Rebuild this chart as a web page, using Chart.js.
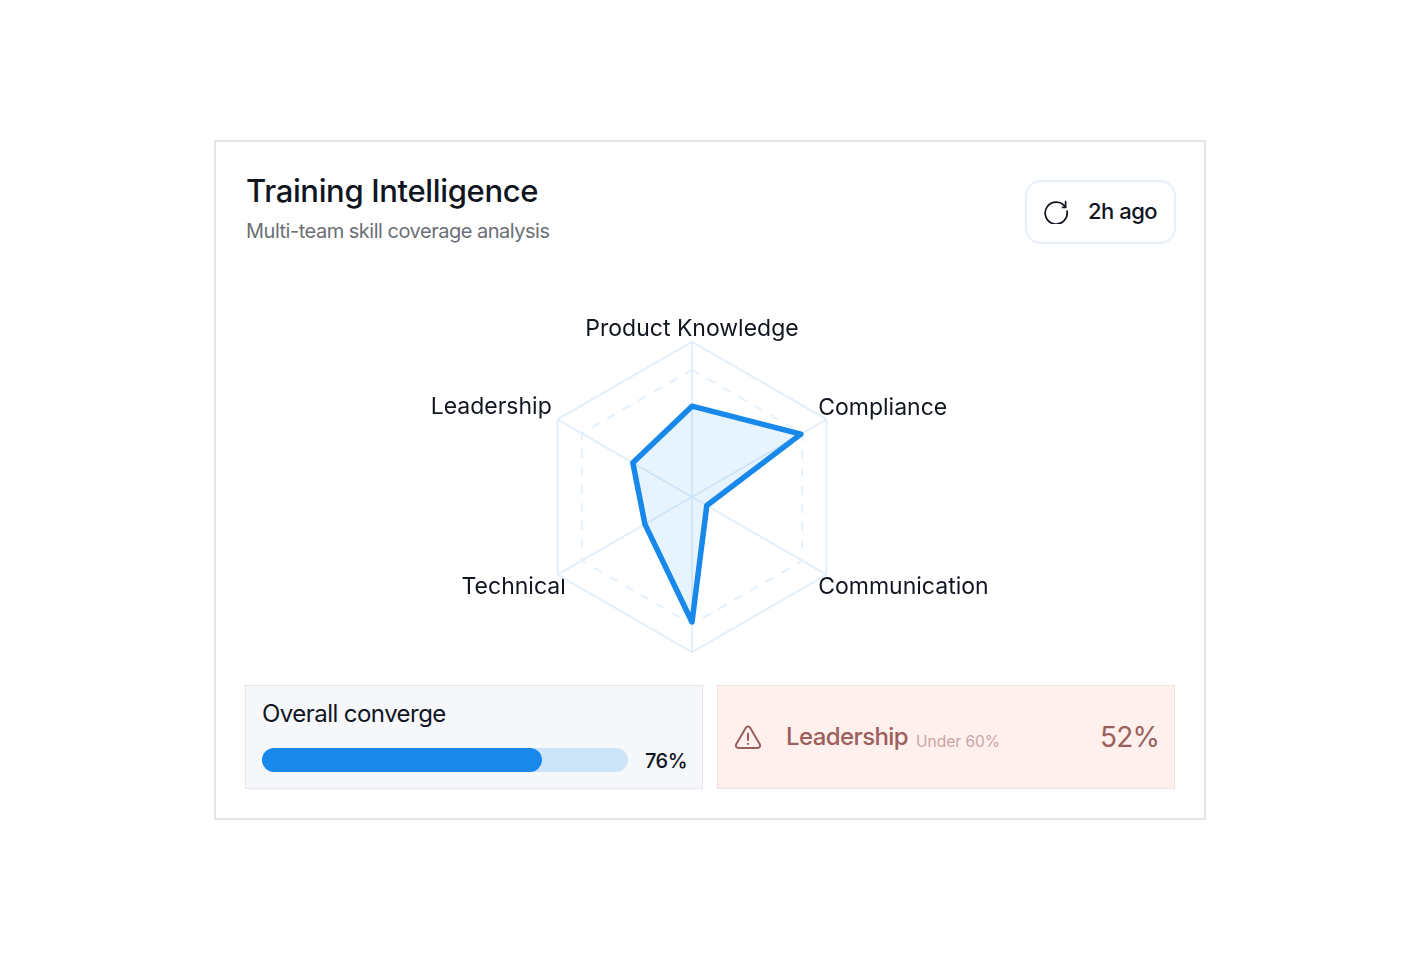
<!DOCTYPE html>
<html>
<head>
<meta charset="utf-8">
<script src="https://cdn.jsdelivr.net/npm/chart.js@4"></script>
<style>
  * { box-sizing: border-box; }
  body { margin: 0; width: 1420px; height: 960px; background: #fff; font-family: Inter, sans-serif; color: #10151f; position: relative; overflow: hidden; }
  .card { position: absolute; left: 214px; top: 140px; width: 992px; height: 680px; border: 2px solid #e5e5e5; }
  .abs { position: absolute; white-space: nowrap; line-height: 1; }
  #title { left: 246px; top: 175px; font-size: 31px; font-weight: 500; letter-spacing: -0.35px; }
  #subtitle { left: 246px; top: 221px; font-size: 20px; color: #6b6f76; letter-spacing: -0.49px; }
  .badge { position: absolute; left: 1025px; top: 180px; width: 151px; height: 64px; border: 2px solid #e8eff6; border-radius: 16px; }
  #ago { left: 1088px; top: 200px; font-size: 22px; font-weight: 500; letter-spacing: -0.5px; }
  #radar { position: absolute; left: 292px; top: 315px; }
  .panel { position: absolute; top: 685px; width: 458px; height: 104px; border: 1.5px solid #e4e6ea; }
  #left { left: 245px; background: #f5f7fb; }
  #right { left: 717px; background: #fff0ee; border-color: #eee2e0; }
  #overall { left: 262px; top: 702px; font-size: 24px; letter-spacing: -0.55px; }
  .track { position: absolute; left: 262px; top: 748px; width: 366px; height: 24px; border-radius: 12px; background: #cde4f8; }
  .fill { height: 100%; border-radius: 12px; background: #1888eb; }
  #pct { left: 645px; top: 751px; font-size: 20px; font-weight: 500; letter-spacing: -0.5px; }
  #lead { left: 786px; top: 725px; font-size: 24px; font-weight: 500; color: #9b5f5c; letter-spacing: -0.6px; }
  #under { left: 916px; top: 734px; font-size: 15.5px; color: #c9a5a3; }
  #alert { left: 1100px; top: 723px; font-size: 28px; color: #9b5f5c; letter-spacing: -0.75px; }
  svg { position: absolute; }
</style>
</head>
<body>
<div class="card"></div>
<div class="abs" id="title"></div>
<div class="abs" id="subtitle"></div>
<div class="badge"></div>
<svg style="left:1043px;top:198px" width="26" height="26" viewBox="0 0 26 26" fill="none" stroke="#10151f" stroke-width="1.7" stroke-linecap="round" stroke-linejoin="round">
  <path d="M22.5 9.2A11 11 0 1 0 24 13"/><path d="M22.6 3.6v5.8h-3"/>
</svg>
<div class="abs" id="ago"></div>
<canvas id="radar" width="800" height="364"></canvas>
<div class="panel" id="left"></div>
<div class="abs" id="overall"></div>
<div class="track"><div class="fill" id="fill"></div></div>
<div class="abs" id="pct"></div>
<div class="panel" id="right"></div>
<svg style="left:734px;top:724px" width="28" height="26" viewBox="0 0 28 26" fill="none" stroke="#9b5f5c" stroke-width="2" stroke-linecap="round" stroke-linejoin="round">
  <path d="M14 2.500c-1 0-1.800.5-2.300 1.400L2.200 20.200c-1 1.800.2 3.800 2.200 3.800h19.200c2 0 3.200-2 2.200-3.800L16.300 3.900C15.800 3 15 2.500 14 2.500z"/><path d="M14 9.500v6.500"/><path d="M14 19.800v.2"/>
</svg>
<div class="abs" id="lead"></div>
<div class="abs" id="under"></div>
<div class="abs" id="alert"></div>

<script>
const skills = ["Product Knowledge", "Compliance", "Communication", "", "Technical", "Leadership"];
const scores = [58.5, 81, 11, 80.5, 35, 44];
const ringValues = [0, 82, 100];

const overallLabel = "Overall converge";
const overallValue = "76%";
const alertSkill = "Leadership";
const alertNote = "Under 60%";
const alertValue = "52%";

document.getElementById("title").textContent = "Training Intelligence";
document.getElementById("subtitle").textContent = "Multi-team skill coverage analysis";
document.getElementById("ago").textContent = "2h ago";
document.getElementById("overall").textContent = overallLabel;
document.getElementById("pct").textContent = overallValue;
document.getElementById("fill").style.width = "280px";
document.getElementById("lead").textContent = alertSkill;
document.getElementById("under").textContent = alertNote;
document.getElementById("alert").textContent = alertValue;

// per label nudges, the labels in the design do not sit on a regular radius
const labelPadding = [-2, -9.5, -9.5, -2, -9.5, 6.7];
const labelLineHeight = [1.25, 1.4, 1.5, 1.25, 1.5, 0.8];

new Chart(document.getElementById("radar").getContext("2d"), {
  type: "radar",
  data: {
    labels: skills,
    datasets: [
      {
        data: scores,
        borderColor: "#1888eb",
        backgroundColor: "rgba(24, 136, 235, 0.1)",
        borderWidth: 5.5,
        borderJoinStyle: "round",
        pointRadius: 0,
        fill: true,
        tension: 0,
      },
    ],
  },
  options: {
    responsive: false,
    animation: false,
    plugins: {
      legend: { display: false },
      tooltip: { enabled: false },
    },
    scales: {
      r: {
        min: 0,
        max: 100,
        afterBuildTicks: (scale) => {
          scale.ticks = ringValues.map((value) => ({ value }));
        },
        ticks: { display: false },
        angleLines: { color: "#e2effa", lineWidth: 1.8 },
        grid: { color: "#e2effa", lineWidth: 1.8 },
        border: {
          dash: (ctx) => (ctx.tick && ctx.tick.value === 100 ? [] : [9, 9]),
        },
        pointLabels: {
          color: "#10151f",
          padding: (ctx) => labelPadding[ctx.index],
          font: (ctx) => ({ family: "Inter", size: 23, lineHeight: labelLineHeight[ctx.index] }),
        },
      },
    },
  },
});
</script>
</body>
</html>
